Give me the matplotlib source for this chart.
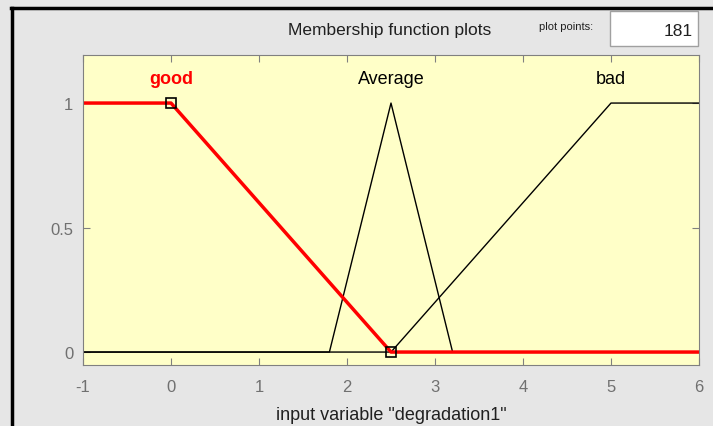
import matplotlib.pyplot as plt
from matplotlib.patches import Rectangle
from matplotlib.lines import Line2D

# membership function breakpoints for input "degradation1"
good_x = [-1, 0, 2.5, 6]
good_y = [1, 1, 0, 0]
avg_x = [-1, 1.8, 2.5, 3.2, 6]
avg_y = [0, 0, 1, 0, 0]
bad_x = [-1, 2.5, 5, 6]
bad_y = [0, 0, 1, 1]

mf_names = ["good", "Average", "bad"]
mf_label_x = [0.0, 2.5, 5.0]
mf_colors = ["red", "black", "black"]
selected_pts_x = [0, 2.5]
selected_pts_y = [1, 0]

x_ticks = [-1, 0, 1, 2, 3, 4, 5, 6]
y_ticks = [0, 0.5, 1]
plot_points = 181

plt.rcParams['font.family'] = ['Liberation Sans', 'DejaVu Sans']
plt.rcParams['axes.unicode_minus'] = False

fig = plt.figure(figsize=(7.13, 4.27), dpi=100, facecolor='#e6e6e6')
W, H = 713, 427

# window frame lines (black border left and top)
fig.add_artist(Line2D([12 / W, 12 / W], [0, 1 - 9 / H], transform=fig.transFigure, color='black', lw=2.5))
fig.add_artist(Line2D([11 / W, 1], [1 - 9 / H, 1 - 9 / H], transform=fig.transFigure, color='black', lw=2.5))

ax = fig.add_axes([83 / W, 1 - 366 / H, (699 - 83) / W, (366 - 56) / H])
ax.set_facecolor('#ffffc8')

ax.plot(bad_x, bad_y, color='black', lw=1)
ax.plot(avg_x, avg_y, color='black', lw=1)
ax.plot(good_x, good_y, color='red', lw=2.5)
ax.plot(selected_pts_x, selected_pts_y, ls='none', marker='s', ms=7,
        mfc='none', mec='black', mew=1.2)

for name, xl, c in zip(mf_names, mf_label_x, mf_colors):
    ax.text(xl, 1.1, name, color=c, ha='center', va='center', fontsize=13,
            fontweight='bold' if c == 'red' else 'normal')

ax.set_xlim(-1, 6)
ax.set_ylim(-0.052, 1.193)
ax.set_xticks(x_ticks)
ax.set_yticks(y_ticks)
ax.set_yticklabels(['0', '0.5', '1'])
ax.tick_params(direction='in', top=True, right=True, colors='#808080',
               labelcolor='#707070', labelsize=12, length=5)
ax.tick_params(axis='x', pad=10)
ax.tick_params(axis='y', pad=7)
for s in ax.spines.values():
    s.set_color('#808080')
ax.set_xlabel('input variable "degradation1"', fontsize=13, color='#202020', labelpad=9)

fig.text(390 / W, 1 - 31 / H, 'Membership function plots', ha='center', va='center',
         fontsize=12.5, color='#202020')
fig.text(566 / W, 1 - 27 / H, 'plot points:', ha='center', va='center',
         fontsize=8, color='#202020')
fig.add_artist(Rectangle((610 / W, 1 - 47 / H), 88 / W, 35 / H, transform=fig.transFigure,
                         facecolor='white', edgecolor='#a0a0a0', lw=1))
fig.text(693 / W, 1 - 31 / H, str(plot_points), ha='right', va='center',
         fontsize=12.5, color='#202020')

fig.savefig('out.png', dpi=100, facecolor=fig.get_facecolor())
